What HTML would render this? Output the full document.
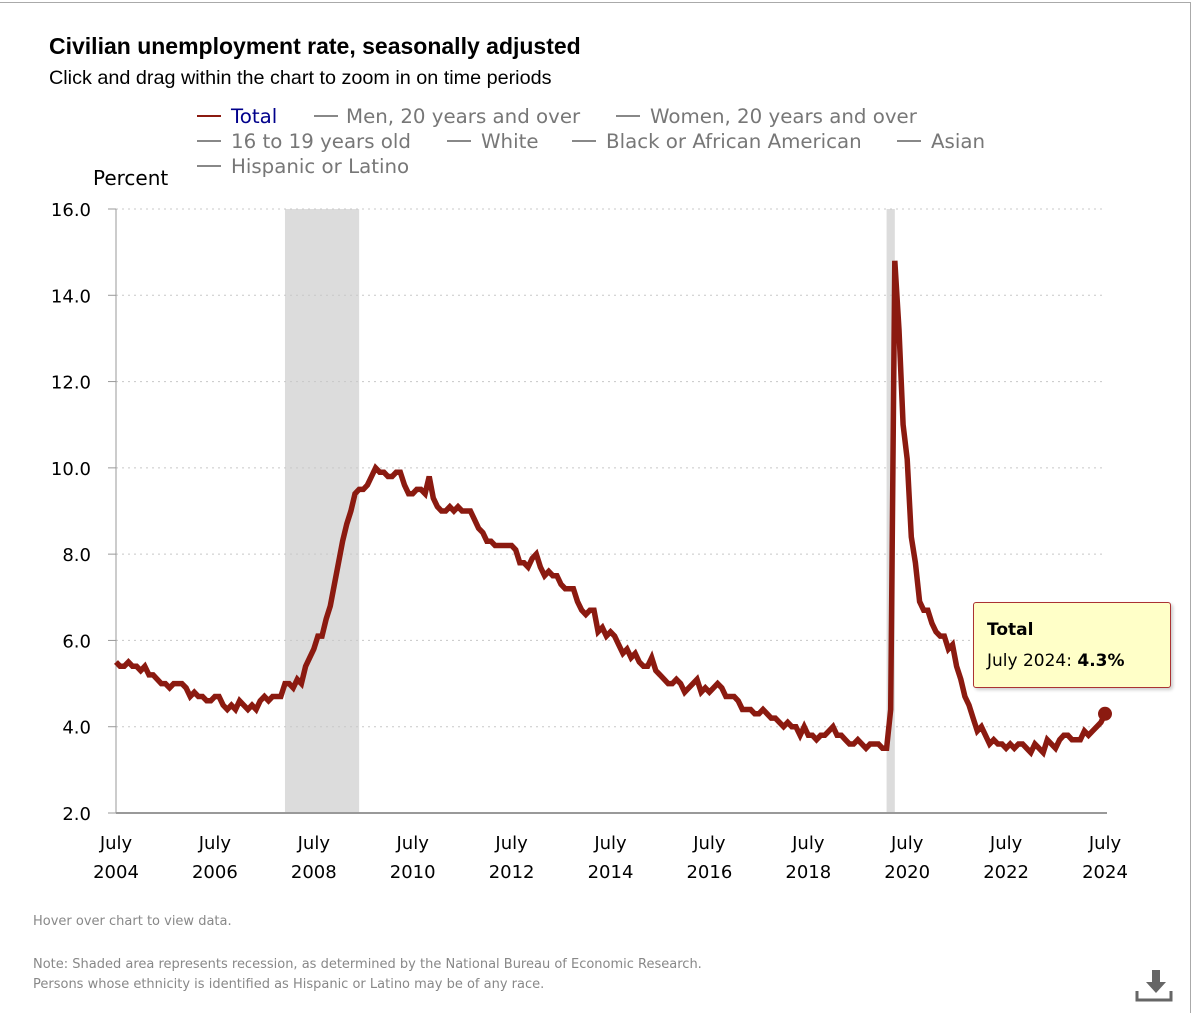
<!DOCTYPE html>
<html><head><meta charset="utf-8">
<style>
body{margin:0;background:#fff;width:1200px;height:1007px;overflow:hidden;position:relative;font-family:"DejaVu Sans","Liberation Sans",sans-serif}
.frame{position:absolute;left:-2px;top:2px;width:1192px;height:1010px;border-top:1px solid #aaa;border-right:1px solid #aaa}
.t{position:absolute;white-space:nowrap}
</style></head><body>
<div class="frame"></div>
<div class="t" style="left:49px;top:33px;font:bold 23px 'Liberation Sans',sans-serif;color:#000">Civilian unemployment rate, seasonally adjusted</div>
<div class="t" style="left:49px;top:67px;font:19.8px 'Liberation Sans',sans-serif;color:#000">Click and drag within the chart to zoom in on time periods</div>
<svg width="1200" height="1007" style="position:absolute;left:0;top:0" id="chart">
<g font-family="DejaVu Sans, sans-serif" font-size="19.8" fill="#777">
<g><line x1="197" y1="116" x2="221" y2="116" stroke="#8b1a10" stroke-width="2"/><text x="231" y="123" fill="#00008b">Total</text></g>
<g><line x1="314" y1="116" x2="338" y2="116" stroke="#888" stroke-width="2"/><text x="346" y="123">Men, 20 years and over</text></g>
<g><line x1="616" y1="116" x2="640" y2="116" stroke="#888" stroke-width="2"/><text x="650" y="123">Women, 20 years and over</text></g>
<g><line x1="197" y1="141" x2="221" y2="141" stroke="#888" stroke-width="2"/><text x="231" y="148">16 to 19 years old</text></g>
<g><line x1="447" y1="141" x2="471" y2="141" stroke="#888" stroke-width="2"/><text x="481" y="148">White</text></g>
<g><line x1="572" y1="141" x2="596" y2="141" stroke="#888" stroke-width="2"/><text x="606" y="148">Black or African American</text></g>
<g><line x1="897" y1="141" x2="921" y2="141" stroke="#888" stroke-width="2"/><text x="931" y="148">Asian</text></g>
<g><line x1="197" y1="166" x2="221" y2="166" stroke="#888" stroke-width="2"/><text x="231" y="173">Hispanic or Latino</text></g>
</g>
<text x="93" y="185" font-family="DejaVu Sans, sans-serif" font-size="20" fill="#000">Percent</text>
<g id="rec"></g><g id="grid"></g><g id="axes"></g><g id="series"></g>
</svg>
<div class="t" style="left:973px;top:602px;width:196px;height:84px;background:#ffffc8;border:1px solid #a33;border-radius:3px;box-shadow:2px 2px 3px rgba(0,0,0,.2);font-family:'DejaVu Sans',sans-serif;font-size:17px;color:#000">
<div style="position:absolute;left:13px;top:17px;font-weight:bold">Total</div>
<div style="position:absolute;left:13px;top:48px">July 2024: <b>4.3%</b></div></div>
<div class="t" style="left:33px;top:914px;font:13px 'DejaVu Sans',sans-serif;color:#888">Hover over chart to view data.</div>
<div class="t" style="left:33px;top:955px;font:13px/20px 'DejaVu Sans',sans-serif;color:#888">Note: Shaded area represents recession, as determined by the National Bureau of Economic Research.<br>Persons whose ethnicity is identified as Hispanic or Latino may be of any race.</div>
<svg width="40" height="40" style="position:absolute;left:1135px;top:965px">
<path d="M17 5h8v12h6l-10 11-10-11h6z" fill="#666"/><path d="M2 26v9h34v-9" fill="none" stroke="#666" stroke-width="3"/></svg>
<script>
const yTicks=[2,4,6,8,10,12,14,16];
const xTickYears=[2004,2006,2008,2010,2012,2014,2016,2018,2020,2022,2024];
const recessions=[[2007,12,2009,6],[2020,2,2020,4]];
const startYear=2004, startMonth=7;
const rates=[5.5,5.4,5.4,5.5,5.4,5.4,
5.3,5.4,5.2,5.2,5.1,5.0,5.0,4.9,5.0,5.0,5.0,4.9,
4.7,4.8,4.7,4.7,4.6,4.6,4.7,4.7,4.5,4.4,4.5,4.4,
4.6,4.5,4.4,4.5,4.4,4.6,4.7,4.6,4.7,4.7,4.7,5.0,
5.0,4.9,5.1,5.0,5.4,5.6,5.8,6.1,6.1,6.5,6.8,7.3,
7.8,8.3,8.7,9.0,9.4,9.5,9.5,9.6,9.8,10.0,9.9,9.9,
9.8,9.8,9.9,9.9,9.6,9.4,9.4,9.5,9.5,9.4,9.8,9.3,
9.1,9.0,9.0,9.1,9.0,9.1,9.0,9.0,9.0,8.8,8.6,8.5,
8.3,8.3,8.2,8.2,8.2,8.2,8.2,8.1,7.8,7.8,7.7,7.9,
8.0,7.7,7.5,7.6,7.5,7.5,7.3,7.2,7.2,7.2,6.9,6.7,
6.6,6.7,6.7,6.2,6.3,6.1,6.2,6.1,5.9,5.7,5.8,5.6,
5.7,5.5,5.4,5.4,5.6,5.3,5.2,5.1,5.0,5.0,5.1,5.0,
4.8,4.9,5.0,5.1,4.8,4.9,4.8,4.9,5.0,4.9,4.7,4.7,
4.7,4.6,4.4,4.4,4.4,4.3,4.3,4.4,4.3,4.2,4.2,4.1,
4.0,4.1,4.0,4.0,3.8,4.0,3.8,3.8,3.7,3.8,3.8,3.9,
4.0,3.8,3.8,3.7,3.6,3.6,3.7,3.6,3.5,3.6,3.6,3.6,
3.5,3.5,4.4,14.8,13.2,11.0,10.2,8.4,7.8,6.9,6.7,6.7,
6.4,6.2,6.1,6.1,5.8,5.9,5.4,5.1,4.7,4.5,4.2,3.9,
4.0,3.8,3.6,3.7,3.6,3.6,3.5,3.6,3.5,3.6,3.6,3.5,
3.4,3.6,3.5,3.4,3.7,3.6,3.5,3.7,3.8,3.8,3.7,3.7,
3.7,3.9,3.8,3.9,4.0,4.1,4.3];
const X0=116,X1=1105,Y0=813,Y1=209;
const mIdx=(y,m)=>(y-startYear)*12+(m-startMonth);
const xs=i=>X0+(X1-X0)*i/240;
const ys=v=>Y0-(v-2)*(Y0-Y1)/14;
const NS='http://www.w3.org/2000/svg';
function mk(p,tag,a){const e=document.createElementNS(NS,tag);for(const k in a)e.setAttribute(k,a[k]);p.appendChild(e);return e;}
const rec=document.getElementById('rec'),grid=document.getElementById('grid'),axes=document.getElementById('axes'),ser=document.getElementById('series');
recessions.forEach(r=>{const a=xs(mIdx(r[0],r[1])),b=xs(mIdx(r[2],r[3]));
const e=mk(rec,'rect',{x:a,y:Y1,width:Math.max(b-a,6),height:Y0-Y1,fill:'#dcdcdc'});

});
yTicks.forEach(v=>{const y=ys(v);
if(v>2){const g=mk(grid,'line',{x1:X0,x2:X1,y1:y,y2:y,stroke:'#c8c8c8','stroke-dasharray':'2,4','stroke-width':1});

}
mk(axes,'line',{x1:X0-8,x2:X0,y1:y,y2:y,stroke:'#999'});
const t=mk(axes,'text',{x:X0-25,y:y+7,'text-anchor':'end','font-family':'DejaVu Sans, sans-serif','font-size':18,fill:'#000'});t.textContent=v.toFixed(1);

});
mk(axes,'line',{x1:X0,x2:X0,y1:Y1,y2:Y0,stroke:'#999'});
mk(axes,'line',{x1:X0,x2:X1+2,y1:Y0,y2:Y0,stroke:'#999','stroke-width':2});
xTickYears.forEach(yr=>{const x=xs(mIdx(yr,7));
const t=mk(axes,'text',{x:x,y:849,'text-anchor':'middle','font-family':'DejaVu Sans, sans-serif','font-size':18,fill:'#000'});t.textContent='July';


const t2=mk(axes,'text',{x:x,y:878,'text-anchor':'middle','font-family':'DejaVu Sans, sans-serif','font-size':18,fill:'#000'});t2.textContent=yr;

});
const pts=rates.map((v,i)=>xs(i).toFixed(1)+','+ys(v).toFixed(1)).join(' ');
const line=mk(ser,'polyline',{points:pts,fill:'none',stroke:'#8b1a10','stroke-width':5.5,'stroke-linejoin':'miter'});


const li=rates.length-1;
const dot=mk(ser,'circle',{cx:xs(li),cy:ys(rates[li]),r:7,fill:'#8b1a10'});


</script>
</body></html>
